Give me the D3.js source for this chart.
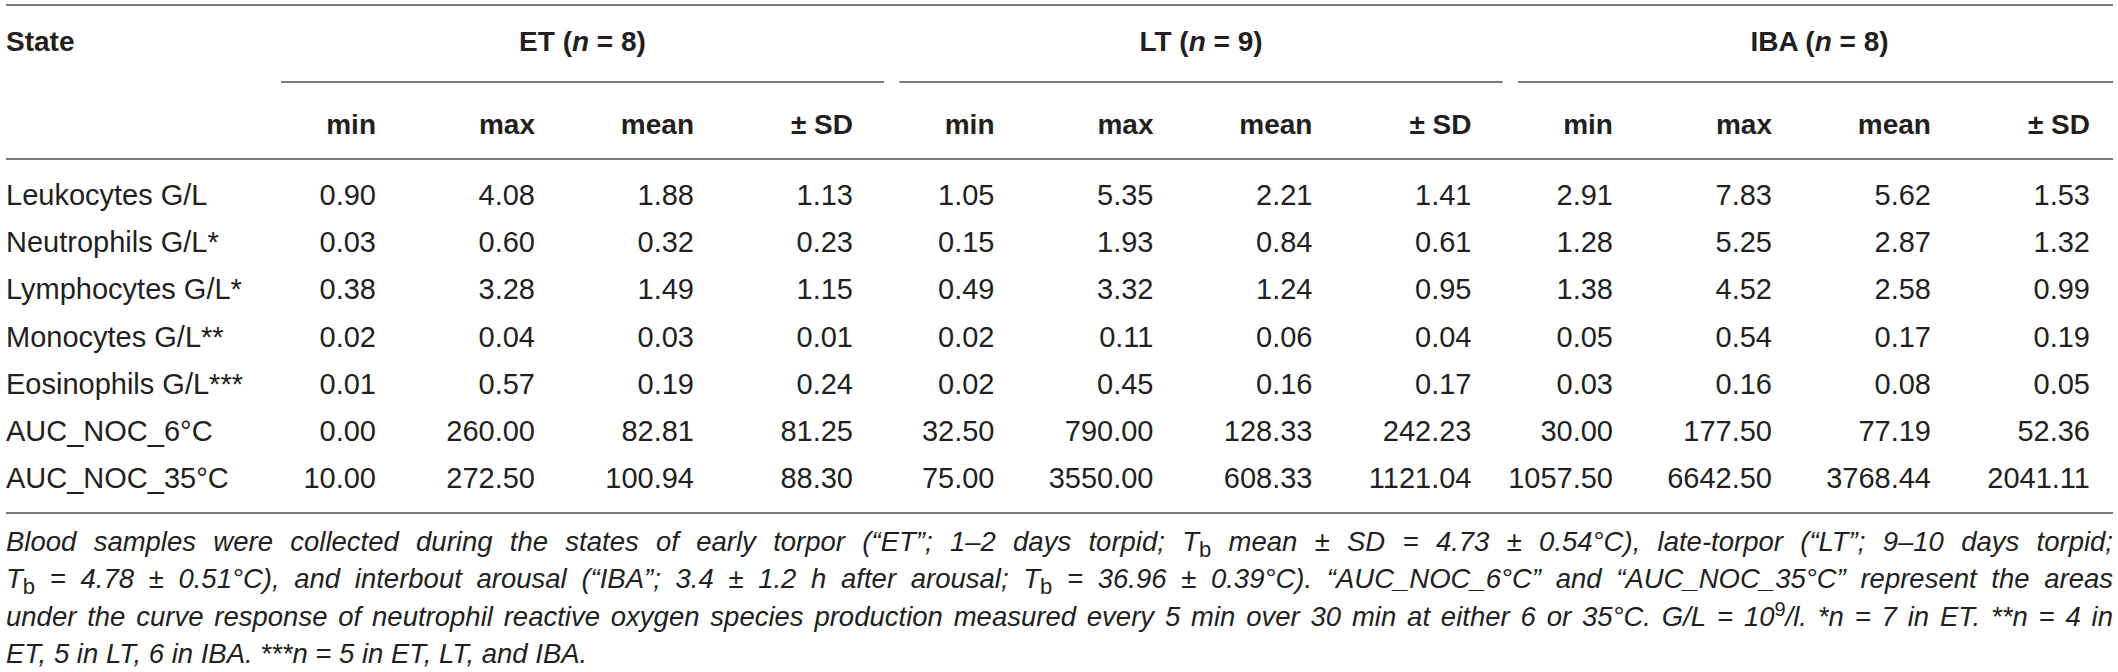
<!DOCTYPE html>
<html>
<head>
<meta charset="utf-8">
<script src="https://cdn.jsdelivr.net/npm/d3@7"></script>
<style>
  html, body { margin: 0; padding: 0; background: #fff; }
  text { font-family: "Liberation Sans", Arial, Helvetica, sans-serif; fill: #231f20; }
  .head { font-weight: bold; font-size: 28px; }
  .cell { font-size: 29px; }
  .note { font-size: 27.5px; font-style: italic; }
  .rule { stroke: #7a7a7a; stroke-width: 2; }
</style>
</head>
<body>
<div id="table"></div>
<script>
"use strict";

// table content
const states = ["Leukocytes G/L", "Neutrophils G/L*", "Lymphocytes G/L*", "Monocytes G/L**",
    "Eosinophils G/L***", "AUC_NOC_6°C", "AUC_NOC_35°C"];
const stages = ["ET", "LT", "IBA"];
const stageN = [8, 9, 8];
const stats = ["min", "max", "mean", "± SD"];

// min, max, mean, SD per state
const etValues = [
    [0.90, 4.08, 1.88, 1.13],
    [0.03, 0.60, 0.32, 0.23],
    [0.38, 3.28, 1.49, 1.15],
    [0.02, 0.04, 0.03, 0.01],
    [0.01, 0.57, 0.19, 0.24],
    [0.00, 260.00, 82.81, 81.25],
    [10.00, 272.50, 100.94, 88.30]
];
const ltValues = [
    [1.05, 5.35, 2.21, 1.41],
    [0.15, 1.93, 0.84, 0.61],
    [0.49, 3.32, 1.24, 0.95],
    [0.02, 0.11, 0.06, 0.04],
    [0.02, 0.45, 0.16, 0.17],
    [32.50, 790.00, 128.33, 242.23],
    [75.00, 3550.00, 608.33, 1121.04]
];
const ibaValues = [
    [2.91, 7.83, 5.62, 1.53],
    [1.28, 5.25, 2.87, 1.32],
    [1.38, 4.52, 2.58, 0.99],
    [0.05, 0.54, 0.17, 0.19],
    [0.03, 0.16, 0.08, 0.05],
    [30.00, 177.50, 77.19, 52.36],
    [1057.50, 6642.50, 3768.44, 2041.11]
];

// footnote, one entry per printed line; _{x} = subscript, ^{x} = superscript
const noteLines = [
    "Blood samples were collected during the states of early torpor (“ET”; 1–2 days torpid; T_{b} mean ± SD = 4.73 ± 0.54°C), late-torpor (“LT”; 9–10 days torpid;",
    "T_{b} = 4.78 ± 0.51°C), and interbout arousal (“IBA”; 3.4 ± 1.2 h after arousal; T_{b} = 36.96 ± 0.39°C). “AUC_NOC_6°C” and “AUC_NOC_35°C” represent the areas",
    "under the curve response of neutrophil reactive oxygen species production measured every 5 min over 30 min at either 6 or 35°C. G/L = 10^{9}/l. *n = 7 in ET. **n = 4 in",
    "ET, 5 in LT, 6 in IBA. ***n = 5 in ET, LT, and IBA."
];

const valuesByStage = { ET: etValues, LT: ltValues, IBA: ibaValues };

const width = 2118, height = 672;
const left = 6, right = 2113;

const svg = d3.select("#table")
    .append("svg")
    .attr("width", width)
    .attr("height", height);

// scales
const y = d3.scalePoint().domain(states).range([205, 488]);
const xGroup = d3.scaleBand().domain(stages).range([281, 2121]).paddingInner(0.025);
const xStat = d3.scalePoint().domain(stats).range([95, 572]);

// horizontal rules
svg.append("line").attr("class", "rule").attr("x1", left).attr("x2", right).attr("y1", 5).attr("y2", 5);
svg.append("line").attr("class", "rule").attr("x1", left).attr("x2", right).attr("y1", 159).attr("y2", 159);
svg.append("line").attr("class", "rule").attr("x1", left).attr("x2", right).attr("y1", 513).attr("y2", 513);

svg.selectAll("line.group")
    .data(stages)
    .join("line")
    .attr("class", "rule group")
    .attr("x1", d => xGroup(d))
    .attr("x2", d => Math.min(xGroup(d) + xGroup.bandwidth(), right))
    .attr("y1", 82)
    .attr("y2", 82);

// header
svg.append("text").attr("class", "head").attr("x", left).attr("y", 51).text("State");

const groupHead = svg.selectAll("text.grp")
    .data(stages)
    .join("text")
    .attr("class", "head grp")
    .attr("text-anchor", "middle")
    .attr("x", d => xGroup(d) + xGroup.bandwidth() / 2)
    .attr("y", 51);
groupHead.append("tspan").text(d => d + " (");
groupHead.append("tspan").attr("font-style", "italic").text("n");
groupHead.append("tspan").text((d, i) => " = " + stageN[i] + ")");

const cols = stages.flatMap(g => stats.map(s => ({ g, s })));

svg.selectAll("text.stat")
    .data(cols)
    .join("text")
    .attr("class", "head stat")
    .attr("text-anchor", "end")
    .attr("x", d => xGroup(d.g) + xStat(d.s))
    .attr("y", 134)
    .text(d => d.s);

// body
svg.selectAll("text.label")
    .data(states)
    .join("text")
    .attr("class", "cell label")
    .attr("x", left)
    .attr("y", d => y(d))
    .text(d => d);

const cells = states.flatMap((st, r) =>
    cols.map(c => ({ st, g: c.g, s: c.s, v: valuesByStage[c.g][r][stats.indexOf(c.s)] })));

svg.selectAll("text.val")
    .data(cells)
    .join("text")
    .attr("class", "cell val")
    .attr("text-anchor", "end")
    .attr("x", d => xGroup(d.g) + xStat(d.s))
    .attr("y", d => y(d.st))
    .text(d => d.v.toFixed(2));

// footnote, justified like the printed caption
const yNote = d3.scalePoint().domain(d3.range(noteLines.length)).range([551, 663]);
const note = svg.append("g");

function addWord(g, word) {
    const t = g.append("text").attr("class", "note");
    let shift = 0;
    word.split(/(_\{[^}]*\}|\^\{[^}]*\})/).filter(s => s).forEach(s => {
        let dy = 0, part = s;
        const ts = t.append("tspan");
        if (s.startsWith("_{")) {
            part = s.slice(2, -1);
            dy = 6 - shift; shift = 6;
            ts.attr("font-size", 22).attr("font-style", "normal");
        } else if (s.startsWith("^{")) {
            part = s.slice(2, -1);
            dy = -10 - shift; shift = -10;
            ts.attr("font-size", 20).attr("font-style", "normal");
        } else {
            dy = -shift; shift = 0;
        }
        if (dy) ts.attr("dy", dy);
        ts.text(part);
    });
    return t;
}

const spaceW = addWord(note, "a a").node().getComputedTextLength()
    - addWord(note, "aa").node().getComputedTextLength();
note.selectAll("text").remove();

noteLines.forEach((line, i) => {
    const words = line.split(" ");
    const nodes = words.map(w => addWord(note, w));
    const widths = nodes.map(n => n.node().getComputedTextLength());
    const last = i === noteLines.length - 1;
    const gap = last ? spaceW : (right - left - d3.sum(widths)) / (words.length - 1);
    let x = left;
    nodes.forEach((n, j) => {
        n.attr("x", x).attr("y", yNote(i));
        x += widths[j] + gap;
    });
});
</script>
</body>
</html>
